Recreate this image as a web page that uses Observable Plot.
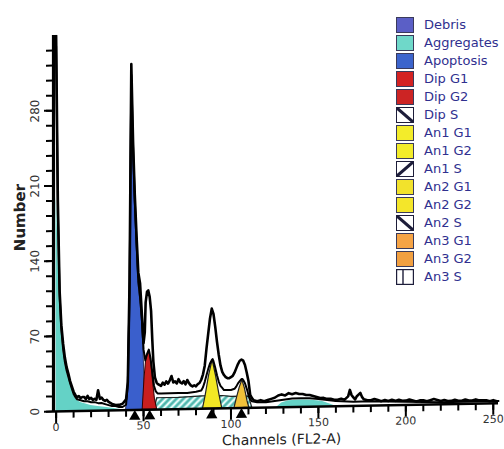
<!DOCTYPE html>
<html><head><meta charset="utf-8">
<script src="https://cdn.jsdelivr.net/npm/d3@7"></script>
<script src="https://cdn.jsdelivr.net/npm/@observablehq/plot@0.6"></script>
<style>
body{margin:0;background:#fff;font-family:"DejaVu Sans",sans-serif;}
#wrap{position:relative;width:504px;height:449px;overflow:hidden;}
#chart svg{transform:skewY(-1.06deg);transform-origin:53px 411px;display:block;}
#legend{position:absolute;left:396px;top:16px;}
.row{display:flex;align-items:center;height:18px;}
.row svg{flex:none;display:block;}
.row span{font-size:13px;color:#30308f;margin-left:10px;white-space:nowrap;line-height:18px;}
</style></head><body>
<div id="wrap"><div id="chart"></div><div id="legend"></div></div>
<script>
// ---- data (channel, count) ----
const histogram = [[0,350],[1,195],[2,112],[3,80],[4,63],[5,50],[6,41],[7,35],[8,28],[9,23],[10,18],[11,15],[12,13],
[13,14],[14,12],[15,13],[16,13],[17,11],[18,14],[19,11],[20,12],[21,10],[22,11],[23,10],[24,19],[25,11],[26,12],[27,10],[28,9],[29,10],[30,8],
[32,6],[34,5],[36,5],[38,6],[39,8],
[40,10],[41,26],[42,120],[43,322],[44,250],[45,200],[46,162],[47,128],[48,118],[49,90],[50,62],
[50.7,72],[51.2,100],[52,110],[52.7,111],[53.5,105],[54.3,92],[55,65],[55.6,45],[56.5,30],[57.5,25],[58,24],
[59,23],[60,22],[61,25],[62,23],[63,26],[64,24],[65,27],[66,31],[67,25],[68,26],[69,24],[70,28],[71,25],[72,24],[73,26],[74,23],[75,27],[76,24],[77,22],[78,21],[79,22],[80,21],[81,23],[82,24],[83,27],[84,32],
[85,40],[86,56],[87,70],[88,84],[89,93],[90,88],[91,76],[92,62],[93,50],[94,40],[95,34],[96,31],[97,29],[98,28],[99,28],[100,29],
[101,30],[102,33],[103,37],[104,41],[105,44],[106,45],[107,44],[108,40],[109,33],[110,25],[111,12],[112,9],
[113,7],[115,6],[117,7],[119,6],[121,7],[123,8],[125,9],[127,11],[129,12],[131,11],[133,13],[135,12],[137,13],[139,12],[141,12],[143,11],[145,11],[147,10],[149,9],[151,8],[153,8],[155,7],[157,7],[159,6],[161,6],[163,7],[165,6],[167,9],
[168,15],[169,10],[170,8],[171,6],[172,9],[174,12],[175,8],[176,6],[178,5],
[180,5],[182,6],[184,5],[186,4],[188,5],[190,4],[192,5],[194,4],[196,5],[198,4],[200,4],[202,5],[204,4],[206,3],[208,4],[210,4],[212,3],[214,4],[216,5],[218,4],[220,3],[222,4],[224,3],[226,3],[228,4],[230,3],[232,3],[234,4],[236,3],[238,3],[240,4],[242,3],[244,3],[246,3],[248,2],[250,3],[252,2]];

const modelFit = [[0,340],[1,185],[2,108],[3,76],[4,58],[5,46],[6,38],[7,32],[8,26],[9,21],[10,16],[11,13],[12,11],[14,10],[16,9],[18,9],[20,8],[22,8],[24,7],[26,7],[28,6],[30,5],[32,4],[34,4],[36,3],[38,3],
[40,5],[41,24],[42,108],[43,312],[44,245],[45,195],[46,155],[47,120],[48,105],[49,86],[50,56],[51,46],[52,52],[53,56],[54,48],[55,35],[56,22],[57,17],[58,15],
[60,15],[65,15],[70,15],[75,15],[80,16],[83,17],[84,20],[85,25],[86,31],[87,37],[88,42],[89,45],[89.5,46],[90,44],[91,38],[92,31],[93,25],[94,21],[95,19],[96,17],[97,17],
[100,17],[102,18],[103,20],[104,23],[105,25],[106,27],[106.5,27],[107,26],[108,23],[109,18],[110,12],[111,8],[112,6],[115,5],[120,5],[125,6],[130,7],[135,8],[140,8],[145,8],[150,7],[155,6],[160,5],[170,4],[180,4],[200,3],[220,2],[253,2]];

const debris = [[0,200],[0.5,185],[1,150],[2,100],[3,72],[4,56],[5,45],[6,37],[7,31],[8,25],[9,20],[10,15],[11,12],[12,10],[14,8],[16,7],[18,6],[20,5],[24,4],[28,3],[32,2],[36,1],[40,0]];
const sPhase = [[56,0],[57.5,11],[70,11],[84,12],[95,12],[100,11],[110,11],[112,0]];
const aggregates = [[126,0],[129,4],[133,6],[140,6.5],[146,6],[152,5],[157,2],[160,0]];
const apoptosis = [[40,0],[41,22],[42,105],[43,312],[44,245],[45,195],[46,155],[47,120],[48,104],[49,86],[50,56],[50.6,20],[51,0]];
const dipG1 = [[49.5,0],[50.5,28],[51.5,47],[53.2,55],[54.3,45],[55.3,28],[56.5,10],[57.8,0]];
const an1G1 = [[84,0],[85.5,12],[87.5,31],[89.5,45],[91.5,30],[93.5,12],[95,0]];
const an2G1 = [[102,0],[103.5,10],[105,19],[106.5,26],[108,18],[109.5,6],[110.5,0]];
const peakMarkers = [45, 53.5, 89, 106];

const xMajor = [0,50,100,150,200,250];
const xMinor = [0,10,20,30,40,50,60,70,80,90,100,110,120,130,140,150,160,170,180,190,200,210,220,230,240,250];
const yMajor = [0,70,140,210,280];
const yMinor = [0,14,28,42,56,70,84,98,112,126,140,154,168,182,196,210,224,238,252,266,280,294,308,322,336];

const legendNames = ["Debris","Aggregates","Apoptosis","Dip G1","Dip G2","Dip S","An1 G1","An1 G2","An1 S","An2 G1","An2 G2","An2 S","An3 G1","An3 G2","An3 S"];
const legendFills = ["#5b5fc6","#6fd8c9","#3c64cc","#d42222","#cc2424","hatchB","#f3ec2a","#f3ec2a","hatchF","#f2e22c","#f4e62a","hatchB","#f6a445","#f2a040","vline"];

// ---- chart ----
const X = d => d[0], Y = d => d[1];
const teal = "#64d2c6";
const chart = Plot.plot({
  width: 504, height: 449,
  marginLeft: 53, marginRight: 6, marginTop: 35, marginBottom: 38,
  x: {domain: [-1.5, 253], axis: null},
  y: {domain: [0, 350], axis: null},
  style: {fontFamily: "DejaVu Sans", fontSize: "12px", background: "white", overflow: "visible"},
  marks: [
    Plot.areaY(debris, {x: X, y: Y, fill: teal}),
    Plot.areaY(sPhase, {x: X, y: Y, fill: teal}),
    Plot.areaY(sPhase, {x: X, y: Y, fill: "url(#hatch)"}),
    Plot.lineY(sPhase, {x: X, y: Y, stroke: "#222", strokeWidth: 1.2}),
    Plot.areaY(aggregates, {x: X, y: Y, fill: teal}),
    Plot.areaY(apoptosis, {x: X, y: Y, fill: "#3a5fcc", stroke: "#1a1a40", strokeWidth: 0.8}),
    Plot.areaY(dipG1, {x: X, y: Y, fill: "#c81f1f", stroke: "#300", strokeWidth: 1}),
    Plot.areaY(an1G1, {x: X, y: Y, fill: "#f3e824", stroke: "#222", strokeWidth: 1.2}),
    Plot.areaY(an2G1, {x: X, y: Y, fill: "#f0c23a", stroke: "#222", strokeWidth: 1.2}),
    Plot.lineY(modelFit, {x: X, y: Y, stroke: "black", strokeWidth: 2}),
    Plot.lineY(histogram, {x: X, y: Y, stroke: "black", strokeWidth: 2.6, clip: true}),
    // axes
    Plot.axisX({ticks: xMinor, tickSize: 7, strokeWidth: 2, tickFormat: () => "", label: null}),
    Plot.axisX({ticks: xMajor, tickSize: 12, strokeWidth: 2, tickFormat: () => "", label: null}),
    Plot.axisY({ticks: yMinor, tickSize: 7, strokeWidth: 2, tickFormat: () => "", label: null}),
    Plot.axisY({ticks: yMajor, tickSize: 9, strokeWidth: 2, tickFormat: () => "", label: null}),
    Plot.ruleY([0], {stroke: "black", strokeWidth: 2.6}),
    Plot.ruleX([-1.5], {stroke: "black", strokeWidth: 3.2}),
    Plot.text(xMajor, {x: d => d, y: 0, text: d => String(d), dy: 16, lineAnchor: "middle", fill: "#333", fontSize: 11}),
    Plot.text(yMajor, {x: -1.5, y: d => d, text: d => String(d), dx: -18, rotate: -90, textAnchor: "middle", lineAnchor: "middle", fill: "#333", fontSize: 12}),
    Plot.text(["Channels (FL2-A)"], {x: 129, y: 0, text: d => d, dy: 32.5, lineAnchor: "middle", fill: "#222", fontSize: 14}),
    Plot.text(["Number"], {x: -1.5, y: 181, text: d => d, dx: -33, rotate: -90, textAnchor: "middle", lineAnchor: "middle", fill: "#222", fontSize: 15, fontWeight: "bold"}),
    Plot.dot(peakMarkers, {x: d => d, y: 0, symbol: "triangle", r: 4.2, fill: "black", stroke: "none", dy: 6.5})
  ]
});
d3.select(chart).insert("defs", ":first-child").html(
  `<pattern id="hatch" patternUnits="userSpaceOnUse" width="7" height="7">
     <path d="M-1,1 L1,-1 M0,7 L7,0 M6,8 L8,6" stroke="white" stroke-width="1.6"/>
     <path d="M-1,4.5 L4.5,-1 M2.5,8 L8,2.5" stroke="#2a4a50" stroke-width="0.7" opacity="0.7"/>
   </pattern>`);
document.getElementById("chart").appendChild(chart);

// ---- legend ----
function swatch(fill) {
  const w = 18, h = 16;
  let inner;
  if (fill === "hatchB") inner = `<rect x="0.5" y="0.5" width="${w-1}" height="${h-1}" fill="white" stroke="#1d1d3a"/><path d="M1,1 L${w-1},${h-1}" stroke="#1d1d3a" stroke-width="3"/>`;
  else if (fill === "hatchF") inner = `<rect x="0.5" y="0.5" width="${w-1}" height="${h-1}" fill="white" stroke="#1d1d3a"/><path d="M1,${h-1} L${w-1},1" stroke="#1d1d3a" stroke-width="3"/>`;
  else if (fill === "vline") inner = `<rect x="0.5" y="0.5" width="${w-1}" height="${h-1}" fill="white" stroke="#1d1d3a" stroke-width="1.4"/><path d="M7,1 L7,${h-1}" stroke="#1d1d3a" stroke-width="1.4"/>`;
  else inner = `<rect x="0.5" y="0.5" width="${w-1}" height="${h-1}" fill="${fill}" stroke="#3a3a5a" stroke-width="1"/>`;
  return `<svg width="${w}" height="${h}" viewBox="0 0 ${w} ${h}">${inner}</svg>`;
}
const legend = d3.select("#legend");
legendNames.forEach((name, i) => {
  const row = legend.append("div").attr("class", "row");
  row.html(swatch(legendFills[i]));
  row.append("span").text(name);
});
</script></body></html>
